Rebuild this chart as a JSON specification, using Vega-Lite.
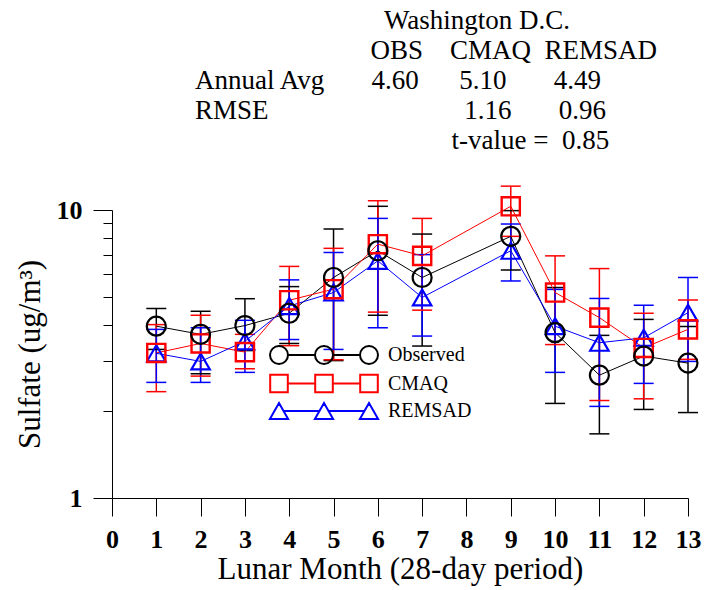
{
  "$schema": "https://vega.github.io/schema/vega-lite/v6.json",
  "width": 576,
  "height": 288,
  "autosize": {"type": "none"},
  "padding": {"left": 112, "top": 210, "right": 18, "bottom": 92},
  "background": "white",
  "title": {
    "text": [
      "\u200b\u00a0\u00a0\u00a0\u00a0\u00a0\u00a0\u00a0\u00a0\u00a0\u00a0\u00a0\u00a0\u00a0\u00a0\u00a0\u00a0\u00a0\u00a0\u00a0\u00a0\u00a0\u00a0\u00a0\u00a0\u00a0\u00a0\u00a0\u00a0Washington D.C.",
      "\u200b\u00a0\u00a0\u00a0\u00a0\u00a0\u00a0\u00a0\u00a0\u00a0\u00a0\u00a0\u00a0\u00a0\u00a0\u00a0\u00a0\u00a0\u00a0\u00a0\u00a0\u00a0\u00a0\u00a0\u00a0\u00a0\u00a0OBS\u00a0\u00a0\u00a0\u00a0CMAQ\u00a0\u00a0REMSAD",
      "Annual Avg\u00a0\u00a0\u00a0\u00a0\u00a0\u00a0\u00a04.60\u00a0\u00a0\u00a0\u00a0\u00a0\u00a05.10\u00a0\u00a0\u00a0\u00a0\u00a0\u00a0\u00a04.49",
      "RMSE\u00a0\u00a0\u00a0\u00a0\u00a0\u00a0\u00a0\u00a0\u00a0\u00a0\u00a0\u00a0\u00a0\u00a0\u00a0\u00a0\u00a0\u00a0\u00a0\u00a0\u00a0\u00a0\u00a0\u00a0\u00a0\u00a0\u00a0\u00a0\u00a01.16\u00a0\u00a0\u00a0\u00a0\u00a0\u00a0\u00a00.96",
      "\u200b\u00a0\u00a0\u00a0\u00a0\u00a0\u00a0\u00a0\u00a0\u00a0\u00a0\u00a0\u00a0\u00a0\u00a0\u00a0\u00a0\u00a0\u00a0\u00a0\u00a0\u00a0\u00a0\u00a0\u00a0\u00a0\u00a0\u00a0\u00a0\u00a0\u00a0\u00a0\u00a0\u00a0\u00a0\u00a0\u00a0\u00a0\u00a0t-value =\u00a0\u00a00.85"
    ],
    "anchor": "start",
    "frame": "group",
    "dx": 83,
    "offset": 28,
    "font": "Liberation Serif",
    "fontSize": 27,
    "fontWeight": "normal",
    "lineHeight": 30,
    "color": "black"
  },
  "config": {
    "view": {"stroke": null},
    "axis": {
      "grid": false,
      "domainColor": "black",
      "domainWidth": 1,
      "tickColor": "black",
      "tickWidth": 1,
      "labelColor": "black",
      "titleColor": "black",
      "labelFont": "Liberation Serif",
      "titleFont": "Liberation Serif",
      "labelFontWeight": "bold",
      "labelFontSize": 26,
      "titleFontSize": 31,
      "titleFontWeight": "normal",
      "labelFlush": false,
      "labelOverlap": false,
      "labelBound": false
    },
    "legend": {
      "labelFont": "Liberation Serif",
      "labelFontSize": 20,
      "labelColor": "black"
    }
  },
  "data": {
    "values": [
      {"month": 1, "series": "Observed", "value": 3.95, "lo": 3.28, "hi": 4.55},
      {"month": 1, "series": "CMAQ", "value": 3.19, "lo": 2.34, "hi": 4.0},
      {"month": 1, "series": "REMSAD", "value": 3.18, "lo": 2.52, "hi": 3.85},
      {"month": 2, "series": "Observed", "value": 3.7, "lo": 2.7, "hi": 4.45},
      {"month": 2, "series": "CMAQ", "value": 3.44, "lo": 2.65, "hi": 4.31},
      {"month": 2, "series": "REMSAD", "value": 2.98, "lo": 2.52, "hi": 3.9},
      {"month": 3, "series": "Observed", "value": 3.97, "lo": 3.25, "hi": 4.92},
      {"month": 3, "series": "CMAQ", "value": 3.21, "lo": 2.81, "hi": 3.7},
      {"month": 3, "series": "REMSAD", "value": 3.5, "lo": 2.73, "hi": 4.14},
      {"month": 4, "series": "Observed", "value": 4.38, "lo": 3.44, "hi": 5.42},
      {"month": 4, "series": "CMAQ", "value": 4.86, "lo": 3.38, "hi": 6.37},
      {"month": 4, "series": "REMSAD", "value": 4.64, "lo": 3.55, "hi": 5.72},
      {"month": 5, "series": "Observed", "value": 5.83, "lo": 3.0, "hi": 8.59},
      {"month": 5, "series": "CMAQ", "value": 5.31, "lo": 3.02, "hi": 7.36},
      {"month": 5, "series": "REMSAD", "value": 5.17, "lo": 3.28, "hi": 7.12},
      {"month": 6, "series": "Observed", "value": 7.22, "lo": 4.31, "hi": 10.3},
      {"month": 6, "series": "CMAQ", "value": 7.61, "lo": 4.42, "hi": 10.77},
      {"month": 6, "series": "REMSAD", "value": 6.66, "lo": 3.9, "hi": 9.35},
      {"month": 7, "series": "Observed", "value": 5.83, "lo": 3.37, "hi": 8.25},
      {"month": 7, "series": "CMAQ", "value": 6.93, "lo": 4.49, "hi": 9.35},
      {"month": 7, "series": "REMSAD", "value": 4.97, "lo": 3.65, "hi": 7.0},
      {"month": 9, "series": "Observed", "value": 8.1, "lo": 6.19, "hi": 9.95},
      {"month": 9, "series": "CMAQ", "value": 10.3, "lo": 8.1, "hi": 12.1},
      {"month": 9, "series": "REMSAD", "value": 7.22, "lo": 5.67, "hi": 8.94},
      {"month": 10, "series": "Observed", "value": 3.75, "lo": 2.13, "hi": 5.38},
      {"month": 10, "series": "CMAQ", "value": 5.17, "lo": 3.41, "hi": 6.93},
      {"month": 10, "series": "REMSAD", "value": 3.95, "lo": 2.73, "hi": 5.3},
      {"month": 11, "series": "Observed", "value": 2.67, "lo": 1.67, "hi": 3.67},
      {"month": 11, "series": "CMAQ", "value": 4.23, "lo": 2.18, "hi": 6.26},
      {"month": 11, "series": "REMSAD", "value": 3.46, "lo": 2.08, "hi": 4.93},
      {"month": 12, "series": "Observed", "value": 3.11, "lo": 2.03, "hi": 4.17},
      {"month": 12, "series": "CMAQ", "value": 3.32, "lo": 2.21, "hi": 4.38},
      {"month": 12, "series": "REMSAD", "value": 3.6, "lo": 2.5, "hi": 4.67},
      {"month": 13, "series": "Observed", "value": 2.94, "lo": 1.98, "hi": 3.94},
      {"month": 13, "series": "CMAQ", "value": 3.85, "lo": 3.03, "hi": 4.87},
      {"month": 13, "series": "REMSAD", "value": 4.4, "lo": 2.98, "hi": 5.83}
    ]
  },
  "layer": [
    {
      "mark": {"type": "rule", "strokeWidth": 1.5},
      "encoding": {
        "x": {
          "field": "month", "type": "quantitative",
          "scale": {"domain": [0, 13], "nice": false, "zero": false},
          "axis": {
            "values": [0, 1, 2, 3, 4, 5, 6, 7, 8, 9, 10, 11, 12, 13],
            "tickSize": 18,
            "labelPadding": 10,
            "title": "Lunar Month (28-day period)",
            "titlePadding": 2
          }
        },
        "y": {
          "field": "lo", "type": "quantitative",
          "scale": {"type": "log", "domain": [1, 10], "nice": false},
          "axis": {
            "values": [1, 2, 3, 4, 5, 6, 7, 8, 9, 10],
            "tickSize": {"condition": {"test": "datum.value === 1 || datum.value === 10", "value": 19}, "value": 9},
            "labelExpr": "datum.value === 1 || datum.value === 10 ? datum.label : ''",
            "labelPadding": 11,
            "title": "Sulfate (ug/m³)",
            "titlePadding": 10
          }
        },
        "y2": {"field": "hi"},
        "color": {
          "field": "series", "type": "nominal",
          "scale": {"domain": ["Observed", "CMAQ", "REMSAD"], "range": ["#000000", "#ff0000", "#0000ff"]}
        }
      }
    },
    {
      "mark": {"type": "point", "shape": "M-1,0H1", "filled": false, "size": 400, "strokeWidth": 1.5, "opacity": 1},
      "encoding": {
        "x": {"field": "month", "type": "quantitative"},
        "y": {"field": "lo", "type": "quantitative"},
        "color": {"field": "series", "type": "nominal"}
      }
    },
    {
      "mark": {"type": "point", "shape": "M-1,0H1", "filled": false, "size": 400, "strokeWidth": 1.5, "opacity": 1},
      "encoding": {
        "x": {"field": "month", "type": "quantitative"},
        "y": {"field": "hi", "type": "quantitative"},
        "color": {"field": "series", "type": "nominal"}
      }
    },
    {
      "mark": {"type": "line", "strokeWidth": 1},
      "encoding": {
        "x": {"field": "month", "type": "quantitative"},
        "y": {"field": "value", "type": "quantitative"},
        "color": {"field": "series", "type": "nominal"}
      }
    },
    {
      "transform": [{"filter": "datum.series === 'REMSAD'"}],
      "mark": {"type": "point", "shape": "triangle-up", "filled": false, "size": 340, "strokeWidth": 2.2, "opacity": 1},
      "encoding": {
        "x": {"field": "month", "type": "quantitative"},
        "y": {"field": "value", "type": "quantitative"},
        "color": {"field": "series", "type": "nominal"}
      }
    },
    {
      "transform": [{"filter": "datum.series === 'CMAQ'"}],
      "mark": {"type": "point", "shape": "square", "filled": false, "size": 330, "strokeWidth": 2.4, "opacity": 1},
      "encoding": {
        "x": {"field": "month", "type": "quantitative"},
        "y": {"field": "value", "type": "quantitative"},
        "color": {"field": "series", "type": "nominal"}
      }
    },
    {
      "transform": [{"filter": "datum.series === 'Observed'"}],
      "mark": {"type": "point", "shape": "circle", "filled": false, "size": 360, "strokeWidth": 2.2, "opacity": 1},
      "encoding": {
        "x": {"field": "month", "type": "quantitative"},
        "y": {"field": "value", "type": "quantitative"},
        "color": {"field": "series", "type": "nominal"}
      }
    },
    {
      "transform": [{"filter": "false"}],
      "mark": {"type": "point", "filled": false, "size": 400, "strokeWidth": 2, "opacity": 1},
      "encoding": {
        "x": {"field": "month", "type": "quantitative"},
        "y": {"field": "value", "type": "quantitative"},
        "color": {
          "field": "series", "type": "nominal",
          "legend": {
            "title": null,
            "orient": "none",
            "legendX": 156,
            "legendY": 134,
            "padding": 0,
            "symbolSize": 400,
            "symbolStrokeWidth": 2,
            "symbolFillColor": "transparent",
            "labelOffset": 98,
            "rowPadding": 2.5
          }
        },
        "shape": {
          "field": "series", "type": "nominal",
          "scale": {
            "domain": ["Observed", "CMAQ", "REMSAD"],
            "range": [
              "M0.9,0A0.9,0.9 0 1,1 -0.9,0A0.9,0.9 0 1,1 0.9,0Z M0.9,0H3.6 M5.4,0A0.9,0.9 0 1,1 3.6,0A0.9,0.9 0 1,1 5.4,0Z M5.4,0H8.1 M9.9,0A0.9,0.9 0 1,1 8.1,0A0.9,0.9 0 1,1 9.9,0Z",
              "M-0.88,-0.88H0.88V0.88H-0.88Z M0.88,0H3.62 M3.62,-0.88H5.38V0.88H3.62Z M5.38,0H8.12 M8.12,-0.88H9.88V0.88H8.12Z",
              "M0,-0.79L0.91,0.79H-0.91Z M0.46,0H4.04 M4.5,-0.79L5.41,0.79H3.59Z M4.96,0H8.54 M9,-0.79L9.91,0.79H8.09Z"
            ]
          },
          "legend": {
            "title": null,
            "orient": "none",
            "legendX": 156,
            "legendY": 134,
            "padding": 0,
            "symbolSize": 400,
            "symbolStrokeWidth": 2,
            "symbolFillColor": "transparent",
            "labelOffset": 98,
            "rowPadding": 2.5
          }
        }
      }
    }
  ]
}
